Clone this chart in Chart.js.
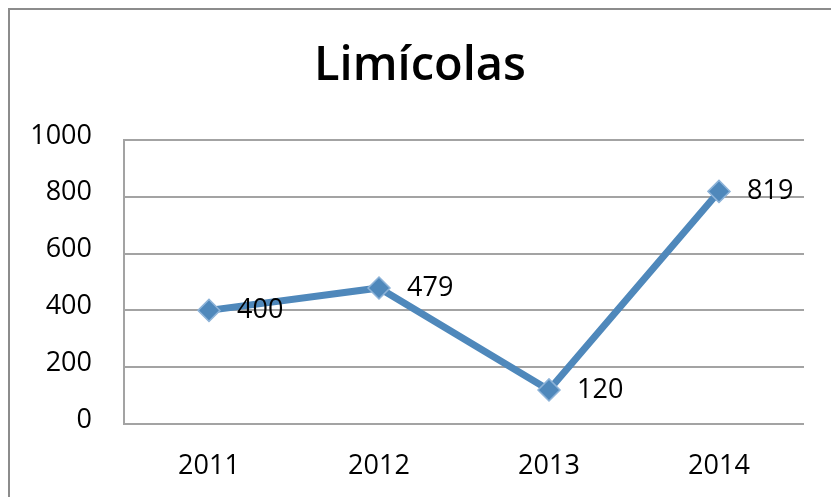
<!DOCTYPE html>
<html>
<head>
<meta charset="utf-8">
<script src="https://cdn.jsdelivr.net/npm/chart.js@4/dist/chart.umd.min.js"></script>
<style>
    html, body { margin: 0; padding: 0; background: #fff; overflow: hidden; }
    #wrap { position: relative; width: 831px; height: 497px; }
    #frame { position: absolute; left: 8px; top: 8px; width: 900px; height: 600px; border: 2px solid #8c8c8c; }
    canvas { position: absolute; left: 0; top: 0; }
</style>
</head>
<body>
<div id="wrap">
    <div id="frame"></div>
    <canvas id="lineChart" width="831" height="497"></canvas>
</div>
<script>
// --- DATA ---
const chartTitle = 'Limícolas';
const years = ['2011', '2012', '2013', '2014'];
const counts = [400, 479, 120, 819];
const yTicks = [0, 200, 400, 600, 800, 1000];

const lineColor = '#4f88bb';
const fontFamily = '"Open Sans", "Noto Sans", sans-serif';

// Title centred over the whole frame, not just the plot
const frameTitle = {
    id: 'frameTitle',
    afterDraw(chart) {
        const ctx = chart.ctx;
        ctx.save();
        ctx.font = `600 47px ${fontFamily}`;
        ctx.fillStyle = '#000';
        ctx.textAlign = 'center';
        ctx.textBaseline = 'alphabetic';
        ctx.fillText(chartTitle, 420, 80);
        ctx.restore();
    }
};

// Value labels to the right of each point
const valueLabels = {
    id: 'valueLabels',
    afterDatasetsDraw(chart) {
        const ctx = chart.ctx;
        const meta = chart.getDatasetMeta(0);
        ctx.save();
        ctx.font = `27px ${fontFamily}`;
        ctx.fillStyle = '#000';
        ctx.textAlign = 'left';
        ctx.textBaseline = 'middle';
        meta.data.forEach((pt, i) => {
            ctx.fillText(String(counts[i]), pt.x + 28, pt.y);
        });
        ctx.restore();
    }
};

const ctx = document.getElementById('lineChart');
new Chart(ctx, {
    type: 'line',
    data: {
        labels: years,
        datasets: [{
            data: counts,
            borderColor: lineColor,
            borderWidth: 7,
            tension: 0,
            pointStyle: 'rectRot',
            pointRadius: 11,
            pointBackgroundColor: lineColor,
            pointBorderColor: '#8db3d8',
            pointBorderWidth: 1.5
        }]
    },
    options: {
        responsive: false,
        animation: false,
        layout: { padding: { left: 0, right: 27, top: 140, bottom: 0 } },
        plugins: {
            legend: { display: false },
            tooltip: { enabled: false },
            title: { display: false }
        },
        scales: {
            x: {
                offset: true,
                grid: { display: false },
                border: { display: false },
                ticks: {
                    color: '#000',
                    padding: 18,
                    font: { family: fontFamily, size: 27 }
                },
                afterFit(scale) { scale.height = 73; }
            },
            y: {
                min: 0,
                max: 1000,
                afterBuildTicks(scale) { scale.ticks = yTicks.map(v => ({ value: v })); },
                grid: { color: '#a3a3a3', lineWidth: 2, drawTicks: false },
                border: { display: true, color: '#a3a3a3', width: 2 },
                ticks: {
                    color: '#000',
                    padding: 32,
                    labelOffset: -4,
                    font: { family: fontFamily, size: 27 },
                    callback: v => String(v)
                },
                afterFit(scale) { scale.width = 124; }
            }
        }
    },
    plugins: [valueLabels, frameTitle]
});
</script>
</body>
</html>
